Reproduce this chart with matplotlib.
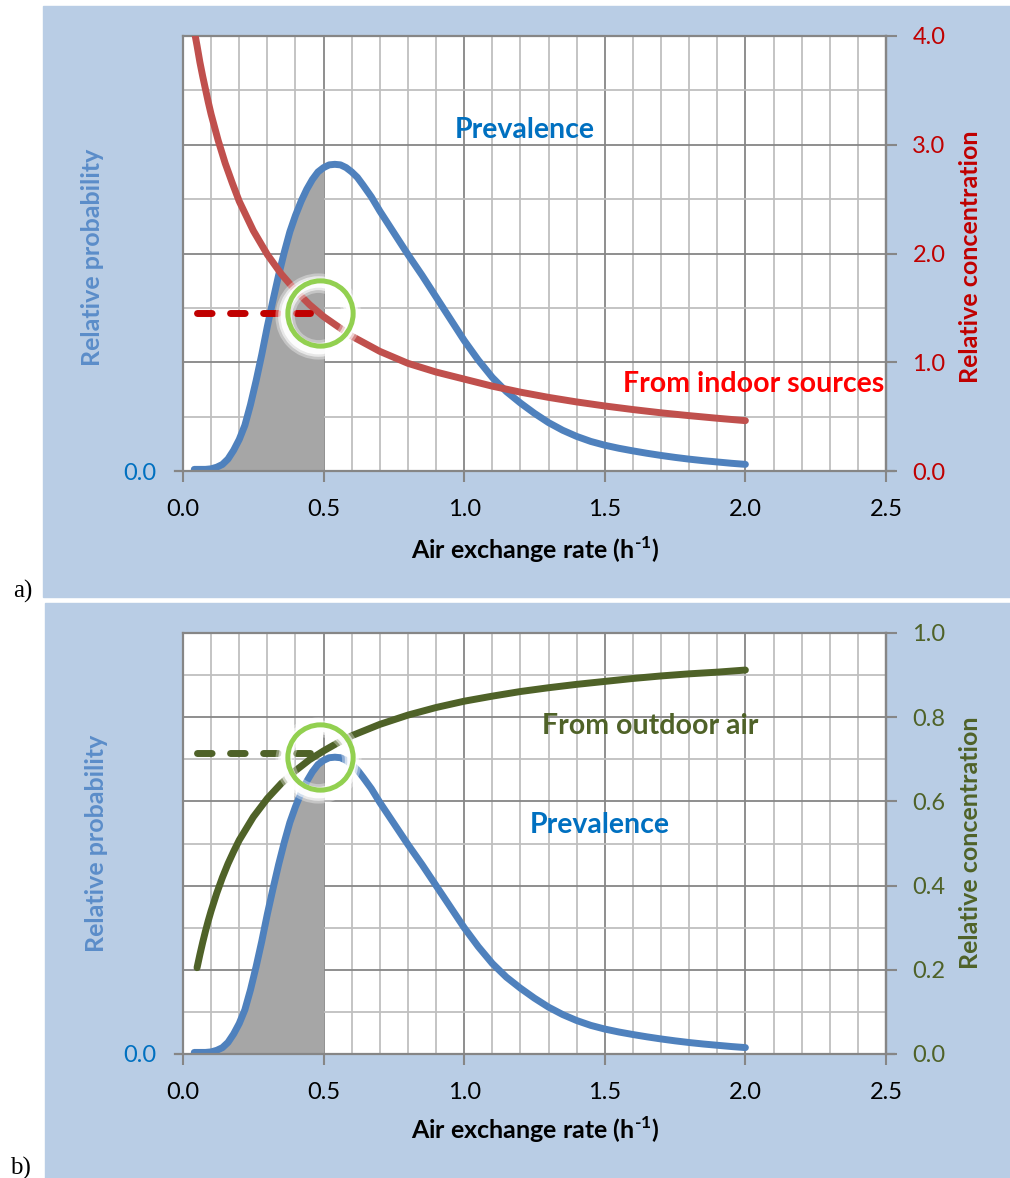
import matplotlib.pyplot as plt
import numpy as np
from matplotlib.patches import Rectangle
from matplotlib.ticker import MultipleLocator, FixedLocator, FuncFormatter
from matplotlib.transforms import offset_copy

plt.rcParams['font.family'] = ['Lato', 'DejaVu Sans']
plt.rcParams['mathtext.fontset'] = 'custom'
plt.rcParams['mathtext.rm'] = 'Lato:bold'
plt.rcParams['mathtext.bf'] = 'Lato:bold'

# prevalence of air exchange rates (relative probability)
rate = [0.04, 0.08, 0.10, 0.12, 0.14, 0.16, 0.18, 0.20, 0.22, 0.24, 0.26, 0.28,
        0.30, 0.32, 0.34, 0.36, 0.38, 0.40, 0.42, 0.44, 0.46, 0.48, 0.50, 0.52,
        0.54, 0.56, 0.58, 0.60, 0.62, 0.64, 0.67, 0.70, 0.75, 0.80, 0.85, 0.90,
        0.95, 1.00, 1.05, 1.10, 1.15, 1.20, 1.25, 1.30, 1.35, 1.40, 1.45, 1.50,
        1.55, 1.60, 1.65, 1.70, 1.75, 1.80, 1.85, 1.90, 1.95, 2.00]
prevalence = [0.015, 0.015, 0.02, 0.035, 0.06, 0.11, 0.19, 0.29, 0.42, 0.61, 0.83, 1.07,
              1.33, 1.57, 1.80, 2.01, 2.20, 2.35, 2.48, 2.59, 2.68, 2.75, 2.79, 2.815,
              2.82, 2.815, 2.79, 2.75, 2.70, 2.63, 2.52, 2.39, 2.19, 1.99, 1.80, 1.60,
              1.40, 1.20, 1.02, 0.86, 0.73, 0.625, 0.53, 0.445, 0.375, 0.318, 0.272, 0.237,
              0.209, 0.185, 0.163, 0.143, 0.125, 0.109, 0.095, 0.083, 0.071, 0.061]

# relative concentration from indoor sources
indoor_rate = [0.04, 0.05, 0.06, 0.07, 0.09, 0.10, 0.125, 0.15, 0.175, 0.20, 0.25,
               0.30, 0.35, 0.40, 0.45, 0.50, 0.55, 0.60, 0.70, 0.80, 0.90, 1.00,
               1.10, 1.20, 1.30, 1.40, 1.50, 1.60, 1.70, 1.80, 1.90, 2.00]
indoor = [4.05, 3.91, 3.76, 3.63, 3.39, 3.28, 3.04, 2.83, 2.65, 2.48, 2.21,
          1.99, 1.81, 1.66, 1.53, 1.42, 1.33, 1.24, 1.10, 0.99, 0.91, 0.845,
          0.78, 0.725, 0.677, 0.635, 0.598, 0.565, 0.535, 0.509, 0.485, 0.463]

# relative concentration from outdoor air
outdoor_rate = [0.05, 0.06, 0.07, 0.08, 0.09, 0.10, 0.12, 0.14, 0.16, 0.18, 0.20,
                0.25, 0.30, 0.35, 0.40, 0.45, 0.50, 0.55, 0.60, 0.70, 0.80, 0.90,
                1.00, 1.10, 1.20, 1.30, 1.40, 1.50, 1.60, 1.70, 1.80, 1.90, 2.00]
outdoor = [0.205, 0.236, 0.265, 0.292, 0.317, 0.340, 0.382, 0.419, 0.452, 0.481,
           0.508, 0.563, 0.607, 0.643, 0.673, 0.699, 0.720, 0.739, 0.756, 0.783,
           0.805, 0.823, 0.838, 0.850, 0.861, 0.870, 0.878, 0.885, 0.892, 0.898,
           0.903, 0.907, 0.912]

# typical rate (h-1) and the concentration read off at it
ref_rate = 0.487
indoor_level = 1.45
outdoor_level = 0.715

BG = '#B9CDE5'
GRID_MINOR = '#BFBFBF'
GRID_MAJOR = '#868686'
W, H = 1010, 1178

fig = plt.figure(figsize=(W / 100, H / 100), dpi=100)
fig.patches.append(Rectangle((43 / W, 1 - 597 / H), 967 / W, 591 / H,
                             transform=fig.transFigure, color=BG, zorder=-5))
fig.patches.append(Rectangle((45 / W, 0), 965 / W, 575 / H,
                             transform=fig.transFigure, color=BG, zorder=-5))


def panel(rect, conc_x, conc_y, conc_color, label_color, rmax, rstep,
          gmajor, gminor, level, ring_y, text_specs, ylab_pos, xlab_pos):
    ax = fig.add_axes(rect)
    ax.set_axisbelow(True)
    ax.set_xlim(0, 2.5)
    ax.set_ylim(0, 4)
    ax.xaxis.set_major_locator(MultipleLocator(0.5))
    ax.xaxis.set_minor_locator(MultipleLocator(0.1))
    ax.yaxis.set_major_locator(FixedLocator(gmajor))
    ax.yaxis.set_minor_locator(FixedLocator(gminor))
    ax.xaxis.set_major_formatter(FuncFormatter(lambda v, p: f'{v:.1f}'))
    ax.yaxis.set_major_formatter(FuncFormatter(lambda v, p: '0.0' if v == 0 else ''))
    ax.grid(which='minor', color=GRID_MINOR, lw=1.3)
    ax.grid(which='major', color=GRID_MAJOR, lw=1.3)
    ax.tick_params(axis='x', which='major', length=8, width=1.5, color=GRID_MAJOR,
                   labelsize=17, pad=12)
    ax.tick_params(axis='x', which='minor', length=0)
    ax.tick_params(axis='y', which='both', length=0, labelsize=17, pad=19,
                   labelcolor='#0070C0')
    for s in ax.spines.values():
        s.set_color(GRID_MAJOR)
        s.set_linewidth(1.6)
    ax.spines['bottom'].set_bounds(-0.03, 2.53)

    x = np.array(rate)
    y = np.array(prevalence)
    ax.fill_between(x, 0, y, where=x <= 0.5, color='#A6A6A6', lw=0, zorder=1.8)
    ax.plot(x, y, color='#4F81BD', lw=5, solid_capstyle='round',
            solid_joinstyle='round', zorder=2)

    ax2 = ax.twinx()
    ax2.set_ylim(0, rmax)
    ax2.yaxis.set_major_locator(MultipleLocator(rstep))
    ax2.yaxis.set_major_formatter(FuncFormatter(lambda v, p: f'{v:.1f}'))
    ax2.tick_params(axis='y', length=8, width=1.5, color=GRID_MAJOR, labelsize=17,
                    pad=11, labelcolor=label_color)
    for s in ax2.spines.values():
        s.set_visible(False)
    ax2.spines['right'].set_visible(True)
    ax2.spines['right'].set_color(GRID_MAJOR)
    ax2.spines['right'].set_linewidth(1.6)

    ax2.plot(conc_x, conc_y, color=conc_color, lw=5, solid_capstyle='round',
             solid_joinstyle='round', zorder=3)
    dash_color = '#C00000' if label_color == '#C00000' else conc_color
    ax2.plot([0.05, 0.45], [level, level], color=dash_color, lw=5,
             dashes=(2.1, 2.66), dash_capstyle='round', zorder=4)

    # highlight ring with a soft white glow
    glow = offset_copy(ax2.transData, fig=fig, x=-2, y=-3, units='dots')
    for mew, a in [(14, 0.35), (10, 0.6), (6.5, 0.9)]:
        ax2.plot([ref_rate], [ring_y], 'o', ms=48, mfc='none', mec='white',
                 mew=mew, alpha=a, transform=glow, zorder=5)
    ax2.plot([ref_rate], [ring_y], 'o', ms=47, mfc='none', mec='#92D050',
             mew=3.6, zorder=6)

    for txt, tx, ty, col, ha in text_specs:
        ax2.text(tx, ty, txt, color=col, fontsize=20.5, fontweight='bold',
                 ha=ha, va='center', zorder=7)

    fig.text(ylab_pos[0][0] / W, 1 - ylab_pos[0][1] / H, 'Relative probability',
             rotation=90, ha='center', va='center', fontsize=18,
             fontweight='bold', color='#5B8DC9')
    fig.text(ylab_pos[1][0] / W, 1 - ylab_pos[1][1] / H, 'Relative concentration',
             rotation=90, ha='center', va='center', fontsize=18,
             fontweight='bold', color=label_color)
    fig.text(xlab_pos[0] / W, 1 - xlab_pos[1] / H,
             r'Air exchange rate (h$^{\text{-1}}$)', ha='center', va='center',
             fontsize=18, fontweight='bold', color='black')
    return ax, ax2


panel([183 / W, 1 - 471 / H, 703 / W, 435 / H], indoor_rate, indoor,
      '#C0504D', '#C00000', 4.0, 1.0,
      [0, 1, 2, 3, 4], list(np.arange(0.5, 4, 1.0)),
      indoor_level, indoor_level,
      [('Prevalence', 1.216, 3.14, '#0070C0', 'center'),
       ('From indoor sources', 2.495, 0.80, '#FF0000', 'right')],
      [(93, 257), (970, 257)], (535, 550))

panel([183 / W, 1 - 1054 / H, 703 / W, 421 / H], outdoor_rate, outdoor,
      '#4F6228', '#4F6228', 1.0, 0.2,
      list(np.arange(0, 4.01, 0.8)), list(np.arange(0.4, 4, 0.8)),
      outdoor_level, 0.705,
      [('From outdoor air', 1.66, 0.78, '#4F6228', 'center'),
       ('Prevalence', 1.483, 0.544, '#0070C0', 'center')],
      [(97, 843), (970, 843)], (535, 1130))

fig.text(23 / W, 1 - 591 / H, 'a)', fontsize=18, family='Liberation Serif',
         ha='center', va='center')
fig.text(20 / W, 1 - 1168 / H, 'b)', fontsize=18, family='Liberation Serif',
         ha='center', va='center')

fig.savefig('out.png', dpi=100, facecolor='white')
